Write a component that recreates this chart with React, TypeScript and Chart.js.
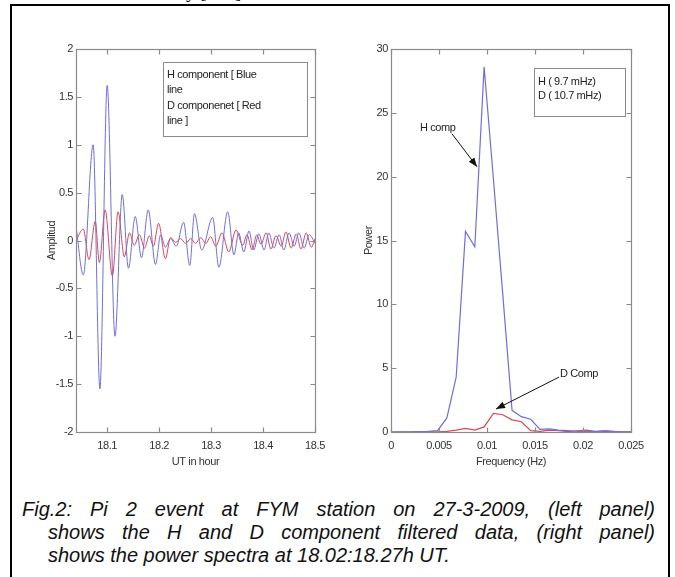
import React, { useEffect, useRef } from 'react';
import { Chart, registerables } from 'chart.js';

Chart.register(...registerables);

const FONT = "'Liberation Sans Narrow', 'Liberation Sans', Arial, sans-serif";
const AXIS_COLOR = '#8a8a8a';
const TEXT_COLOR = '#333333';
const BLUE = 'rgb(110,110,228)';
const RED = 'rgb(225,70,80)';

// ---------- Left panel: filtered H and D data ----------
const hTime = [
  18.04, 18.054, 18.073, 18.086, 18.1, 18.115, 18.129, 18.141, 18.154, 18.166,
  18.179, 18.193, 18.203, 18.212, 18.222, 18.233, 18.247, 18.259, 18.268, 18.282,
  18.303, 18.315, 18.332, 18.344, 18.353, 18.363, 18.373, 18.382, 18.392, 18.402,
  18.411, 18.421, 18.431, 18.44, 18.45, 18.46, 18.469, 18.479, 18.489, 18.5,
];
const hValue = [
  0.15, -0.36, 1.0, -1.55, 1.62, -1.0, 0.48, -0.29, 0.25, -0.18,
  0.32, -0.25, 0.06, -0.07, 0.02, -0.06, 0.19, -0.26, 0.28, -0.1,
  0.24, -0.28, 0.3, -0.15, 0.08, -0.12, 0.1, -0.1, 0.07, -0.1,
  0.08, -0.08, 0.06, -0.1, 0.08, -0.06, 0.08, -0.08, 0.06, -0.03,
];
const dTime = [
  18.04, 18.054, 18.065, 18.077, 18.085, 18.096, 18.11, 18.121, 18.133, 18.143,
  18.152, 18.162, 18.172, 18.181, 18.189, 18.199, 18.212, 18.222, 18.232, 18.241,
  18.251, 18.261, 18.27, 18.28, 18.29, 18.299, 18.309, 18.321, 18.334, 18.348,
  18.361, 18.369, 18.379, 18.388, 18.396, 18.406, 18.415, 18.425, 18.435, 18.444,
  18.454, 18.464, 18.473, 18.483, 18.493, 18.5,
];
const dValue = [
  0.0, 0.12, -0.2, 0.2, -0.23, 0.32, -0.37, 0.3, -0.17, 0.08,
  -0.05, 0.06, -0.08, 0.05, -0.06, 0.18, -0.19, 0.03, -0.02, 0.02,
  -0.03, 0.02, -0.03, 0.03, -0.03, 0.04, -0.06, 0.08, -0.12, 0.11,
  -0.05, 0.06, -0.1, 0.06, -0.04, 0.08, -0.09, 0.05, -0.06, 0.09,
  -0.08, 0.07, -0.09, 0.08, -0.07, 0.02,
];
const leftXTicks = [18.1, 18.2, 18.3, 18.4, 18.5];
const leftYTicks = [-2, -1.5, -1, -0.5, 0, 0.5, 1, 1.5, 2];
const leftLegend = ['H component [ Blue', 'line', 'D componenet [ Red', 'line ]'];

// ---------- Right panel: power spectra ----------
const frequency = [
  0, 0.00097, 0.00194, 0.00291, 0.00388, 0.00485, 0.00582, 0.00679, 0.00776, 0.00873,
  0.0097, 0.01067, 0.01164, 0.01261, 0.01358, 0.01455, 0.01552, 0.01649, 0.01746, 0.01843,
  0.0194, 0.02037, 0.02134, 0.02231, 0.02328, 0.02425, 0.02522,
];
const hPower = [
  0.0, 0.01, 0.02, 0.03, 0.05, 0.1, 1.1, 4.3, 15.7, 14.5,
  28.6, 19.8, 10.8, 1.7, 1.2, 1.0, 0.2, 0.25, 0.15, 0.1,
  0.05, 0.05, 0.05, 0.1, 0.05, 0.02, 0.02,
];
const dPower = [
  0.0, 0.0, 0.0, 0.01, 0.01, 0.02, 0.05, 0.15, 0.28, 0.15,
  0.4, 1.45, 1.35, 0.95, 0.8, 0.1, 0.05, 0.15, 0.1, 0.03,
  0.1, 0.15, 0.03, 0.05, 0.02, 0.01, 0.01,
];
const rightXTicks = [0, 0.005, 0.01, 0.015, 0.02, 0.025];
const rightYTicks = [0, 5, 10, 15, 20, 25, 30];
const rightLegend = ['H ( 9.7 mHz)', 'D ( 10.7 mHz)'];

const captionLines = [
  'Fig.2: Pi 2 event at FYM station on 27-3-2009, (left panel)',
  'shows the H and D component filtered data, (right panel)',
  'shows the power spectra at 18.02:18.27h UT.',
];

const panelPlugin = {
  id: 'panel',
  beforeDraw(chart: any) {
    chart.ctx.letterSpacing = '-0.4px';
  },
  afterDatasetsDraw(chart: any, _args: any, opts: any) {
    const { ctx, chartArea: a, scales } = chart;
    const xs = scales.x;
    const ys = scales.y;
    ctx.save();
    ctx.strokeStyle = AXIS_COLOR;
    ctx.lineWidth = 1.2;
    const L = Math.round(a.left) + 0.5;
    const R = Math.round(a.right) + 0.5;
    const T = Math.round(a.top) + 0.5;
    const B = Math.round(a.bottom) + 0.5;
    ctx.strokeRect(L, T, R - L, B - T);
    const tl = 5;
    ctx.beginPath();
    xs.ticks.forEach((t: any) => {
      const p = Math.round(xs.getPixelForValue(t.value)) + 0.5;
      ctx.moveTo(p, B); ctx.lineTo(p, B - tl);
      ctx.moveTo(p, T); ctx.lineTo(p, T + tl);
    });
    ys.ticks.forEach((t: any) => {
      const p = Math.round(ys.getPixelForValue(t.value)) + 0.5;
      ctx.moveTo(L, p); ctx.lineTo(L + tl, p);
      ctx.moveTo(R, p); ctx.lineTo(R - tl, p);
    });
    ctx.stroke();

    ctx.font = `11px ${FONT}`;
    ctx.fillStyle = '#222';
    ctx.textBaseline = 'middle';
    ctx.textAlign = 'left';
    const lg = opts.legend;
    if (lg) {
      const bx = a.right - lg.right - lg.width;
      const by = a.top + lg.top;
      ctx.strokeStyle = AXIS_COLOR;
      ctx.lineWidth = 1;
      ctx.strokeRect(Math.round(bx) + 0.5, Math.round(by) + 0.5, lg.width, lg.height);
      lg.lines.forEach((s: string, i: number) => {
        ctx.fillText(s, bx + 4, by + lg.first + i * lg.step);
      });
    }
    (opts.arrows || []).forEach((ar: any) => {
      const x0 = xs.getPixelForValue(ar.from[0]);
      const y0 = ys.getPixelForValue(ar.from[1]);
      const x1 = xs.getPixelForValue(ar.to[0]);
      const y1 = ys.getPixelForValue(ar.to[1]);
      ctx.strokeStyle = '#111';
      ctx.fillStyle = '#111';
      ctx.lineWidth = 1;
      ctx.beginPath();
      ctx.moveTo(x0, y0);
      ctx.lineTo(x1, y1);
      ctx.stroke();
      const ang = Math.atan2(y1 - y0, x1 - x0);
      const hl = 9, hw = 3.5;
      ctx.beginPath();
      ctx.moveTo(x1, y1);
      ctx.lineTo(x1 - hl * Math.cos(ang) + hw * Math.sin(ang), y1 - hl * Math.sin(ang) - hw * Math.cos(ang));
      ctx.lineTo(x1 - hl * Math.cos(ang) - hw * Math.sin(ang), y1 - hl * Math.sin(ang) + hw * Math.cos(ang));
      ctx.closePath();
      ctx.fill();
      ctx.fillStyle = '#222';
      ctx.fillText(ar.label, xs.getPixelForValue(ar.text[0]), ys.getPixelForValue(ar.text[1]));
    });
    ctx.restore();
  },
};

function makeConfig(p: any) {
  const tickFont = { family: FONT, size: 11 };
  return {
    type: 'line',
    data: { datasets: p.datasets },
    plugins: [panelPlugin],
    options: {
      animation: false,
      responsive: false,
      maintainAspectRatio: false,
      devicePixelRatio: 1,
      layout: { padding: { left: 0, top: p.top, right: p.right, bottom: 0 } },
      plugins: {
        legend: { display: false },
        tooltip: { enabled: false },
        panel: { legend: p.legend, arrows: p.arrows },
      },
      elements: { point: { radius: 0 } },
      scales: {
        x: {
          type: 'linear',
          min: p.xMin,
          max: p.xMax,
          grid: { display: false, drawTicks: false },
          border: { display: false },
          afterBuildTicks: (s: any) => { s.ticks = p.xTicks.map((v: number) => ({ value: v })); },
          afterFit: (s: any) => { s.height = p.xAxisHeight; },
          ticks: { padding: 7, color: TEXT_COLOR, font: tickFont, maxRotation: 0, autoSkip: false, callback: (v: any) => String(v) },
          title: { display: true, text: p.xTitle, color: TEXT_COLOR, font: tickFont, padding: { top: 0, bottom: p.xTitlePad } },
        },
        y: {
          type: 'linear',
          min: p.yMin,
          max: p.yMax,
          grid: { display: false, drawTicks: false },
          border: { display: false },
          afterBuildTicks: (s: any) => { s.ticks = p.yTicks.map((v: number) => ({ value: v })); },
          afterFit: (s: any) => { s.width = p.yAxisWidth; },
          ticks: { padding: 3, color: TEXT_COLOR, font: tickFont, autoSkip: false, callback: (v: any) => String(v) },
          title: { display: true, text: p.yTitle, color: TEXT_COLOR, font: tickFont, padding: { top: p.yTitlePad, bottom: 0 } },
        },
      },
    },
  };
}

function ChartCanvas({ config, left, width, height }: any) {
  const ref = useRef<HTMLCanvasElement>(null);
  useEffect(() => {
    const chart = new Chart(ref.current as HTMLCanvasElement, config as any);
    return () => chart.destroy();
  }, []);
  return (
    <canvas
      ref={ref}
      width={width}
      height={height}
      style={{ position: 'absolute', left, top: 0, width, height }}
    />
  );
}

const leftConfig = makeConfig({
  datasets: [
    {
      data: hTime.map((t, i) => ({ x: t, y: hValue[i] })),
      borderColor: BLUE, borderWidth: 1, cubicInterpolationMode: 'monotone', tension: 0.4,
    },
    {
      data: dTime.map((t, i) => ({ x: t, y: dValue[i] })),
      borderColor: RED, borderWidth: 1, cubicInterpolationMode: 'monotone', tension: 0.4,
    },
  ],
  top: 49, right: 25,
  xMin: 18.04, xMax: 18.5, xTicks: leftXTicks, xTitle: 'UT in hour', xAxisHeight: 48, xTitlePad: 11,
  yMin: -2, yMax: 2, yTicks: leftYTicks, yTitle: 'Amplitud', yAxisWidth: 76, yTitlePad: 45,
  legend: { lines: leftLegend, right: 8, width: 144, top: 13, height: 74, first: 13, step: 15.3 },
  arrows: [],
});

const rightConfig = makeConfig({
  datasets: [
    { data: frequency.map((f, i) => ({ x: f, y: hPower[i] })), borderColor: BLUE, borderWidth: 1.2, tension: 0 },
    { data: frequency.map((f, i) => ({ x: f, y: dPower[i] })), borderColor: RED, borderWidth: 1.2, tension: 0 },
  ],
  top: 49, right: 44,
  xMin: 0, xMax: 0.025, xTicks: rightXTicks, xTitle: 'Frequency (Hz)', xAxisHeight: 48, xTitlePad: 11,
  yMin: 0, yMax: 30, yTicks: rightYTicks, yTitle: 'Power', yAxisWidth: 51, yTitlePad: 22,
  legend: { lines: rightLegend, right: 6, width: 91, top: 19, height: 48, first: 14, step: 14 },
  arrows: [
    { label: 'H comp', text: [0.00302, 23.83], from: [0.00635, 23.36], to: [0.00896, 20.78] },
    { label: 'D Comp', text: [0.0176, 4.53], from: [0.0175, 4.3], to: [0.01094, 1.8] },
  ],
});

export default function App() {
  const capStyle: any = {
    position: 'absolute',
    font: "italic 20px 'Liberation Sans', Arial, sans-serif",
    lineHeight: '23px',
    color: '#111',
    whiteSpace: 'nowrap',
  };
  return (
    <div style={{ position: 'absolute', left: 0, top: 0, width: 675, height: 577, overflow: 'hidden', background: '#fff' }}>
      <div style={{ position: 'absolute', left: 186, top: -18, font: "19px 'Liberation Serif', serif", lineHeight: '19px', color: '#111', whiteSpace: 'pre' }}>{'y [ 14 ]'}</div>
      <div style={{ position: 'absolute', left: 10, top: 4, width: 660, height: 700, border: '2px solid #000', boxSizing: 'border-box', background: '#fff' }} />
      <ChartCanvas config={leftConfig} left={0} width={340} height={480} />
      <ChartCanvas config={rightConfig} left={340} width={335} height={480} />
      <div style={{ ...capStyle, left: 22, top: 498, width: 633, textAlign: 'justify', textAlignLast: 'justify', whiteSpace: 'normal' }}>{captionLines[0]}</div>
      <div style={{ ...capStyle, left: 48, top: 521, width: 607, textAlign: 'justify', textAlignLast: 'justify', whiteSpace: 'normal' }}>{captionLines[1]}</div>
      <div style={{ ...capStyle, left: 48, top: 544 }}>{captionLines[2]}</div>
    </div>
  );
}
